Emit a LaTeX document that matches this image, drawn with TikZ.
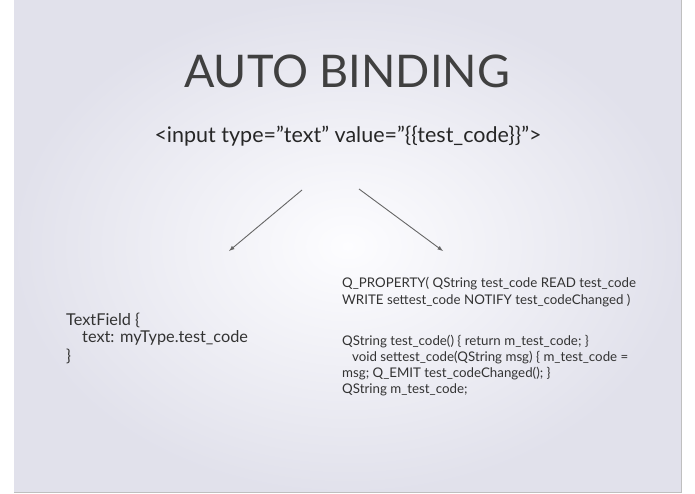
\documentclass[tikz,border=0pt]{standalone}
\usepackage{fontspec}
\setmainfont{Lato}
\newcommand{\sq}{\symbol{34}}
\begin{document}
\begin{tikzpicture}[x=1pt,y=-1pt,
  code/.style={anchor=west,inner sep=0,font=\fontsize{13.3}{13}\selectfont,text=black!80},
  codel/.style={anchor=west,inner sep=0,font=\fontsize{16.3}{16}\selectfont,text=black!80},
  arr/.style={draw=black!60,line width=0.9pt,-latex}]
\useasboundingbox (0,0) rectangle (695,494);
\fill[white] (0,0) rectangle (695,494);
\shade[inner color=white!96!blue!20,outer color=black!8!white!96!blue] (14,0) rectangle (681,492);
\draw[black!25,line width=1pt] (681,0) -- (681,492.5) -- (14,492.5);
\node[font=\fontsize{45}{45}\selectfont,text=black!75,inner sep=0] (title) at (347,71) {AUTO BINDING};
\node[font=\fontsize{21.5}{22}\selectfont,text=black!85,inner sep=0] (sub) at (348,136) {<input type=\sq text\sq{} value=\sq\{\{test\_code\}\}\sq>};
\coordinate (l0) at (302,190); \coordinate (l1) at (229,251);
\coordinate (r0) at (359,189); \coordinate (r1) at (443,251);
\draw[arr] (l0) -- (l1);
\draw[arr] (r0) -- (r1);
\node[codel] (a1) at (66,320) {TextField \{};
\node[codel] (a2) at (82,338) {text: myType.test\_code};
\node[codel] (a3) at (66,356) {\}};
\node[code] (b1) at (342,284) {Q\_PROPERTY( QString test\_code READ test\_code};
\node[code] (b2) at (342,301) {WRITE settest\_code NOTIFY test\_codeChanged )};
\node[code] (b3) at (342,342) {QString test\_code() \{ return m\_test\_code; \}};
\node[code] (b4) at (352,358) {void settest\_code(QString msg) \{ m\_test\_code =};
\node[code] (b5) at (342,374) {msg; Q\_EMIT test\_codeChanged(); \}};
\node[code] (b6) at (342,390) {QString m\_test\_code;};
\end{tikzpicture}
\end{document}
